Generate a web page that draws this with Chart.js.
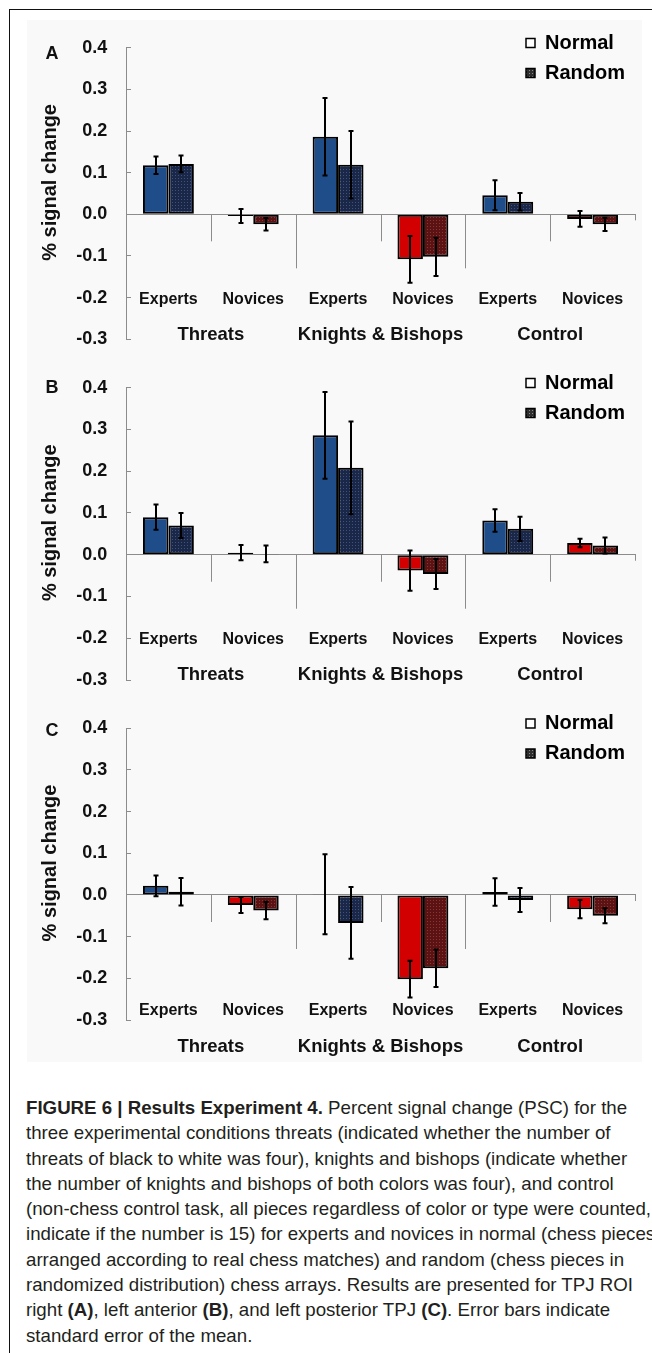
<!DOCTYPE html>
<html>
<head>
<meta charset="utf-8">
<title>Figure 6 - Results Experiment 4</title>
<script src="https://cdn.jsdelivr.net/npm/chart.js@4.4.1/dist/chart.umd.min.js"></script>
<style>
    body { margin: 0; background: #fff; }
    #page { position: relative; width: 652px; height: 1353px; overflow: hidden; font-family: 'Liberation Sans', Arial, sans-serif; }
    #frame { position: absolute; left: 9px; top: 9px; width: 660px; height: 1360px; border-left: 1px solid #111; border-top: 1px solid #111; }
    #panelBg { position: absolute; left: 27px; top: 20px; width: 615px; height: 1042px; background: #f9f9f9; }
    .panel { position: absolute; left: 0; }
    #caption { position: absolute; left: 26px; top: 1095px; font-size: 18.5px; line-height: 25.3px; color: #231f20; transform-origin: 0 0; }
    #caption div { white-space: nowrap; }
</style>
</head>
<body>
<div id="page">
    <div id="panelBg"></div>
    <div id="frame"></div>
    <canvas id="chartA" class="panel" width="652" height="360" style="top:0px"></canvas>
    <canvas id="chartB" class="panel" width="652" height="360" style="top:340px"></canvas>
    <canvas id="chartC" class="panel" width="652" height="390" style="top:680px"></canvas>
    <div id="caption">
        <div><b>FIGURE 6 | Results Experiment 4.</b> Percent signal change (PSC) for the</div>
        <div>three experimental conditions threats (indicated whether the number of</div>
        <div>threats of black to white was four), knights and bishops (indicate whether</div>
        <div>the number of knights and bishops of both colors was four), and control</div>
        <div><span id="capRef">(non-chess control task, all pieces regardless of color or type were counted,</span></div>
        <div>indicate if the number is 15) for experts and novices in normal (chess pieces</div>
        <div>arranged according to real chess matches) and random (chess pieces in</div>
        <div>randomized distribution) chess arrays. Results are presented for TPJ ROI</div>
        <div>right <b>(A)</b>, left anterior <b>(B)</b>, and left posterior TPJ <b>(C)</b>. Error bars indicate</div>
        <div>standard error of the mean.</div>
    </div>
</div>

<script>
// Categories and ticks
const categories = ['Experts', 'Novices', 'Experts', 'Novices', 'Experts', 'Novices'];
const groups = ['Threats', 'Knights & Bishops', 'Control'];
const seriesNames = ['Normal', 'Random'];
const yTickValues = [-0.3, -0.2, -0.1, 0, 0.1, 0.2, 0.3, 0.4];

// Panel A - TPJ ROI right
const aNormal = [0.118, -0.004, 0.186, -0.108, 0.046, -0.011];
const aNormalErr = [0.021, 0.017, 0.093, 0.056, 0.036, 0.019];
const aRandom = [0.121, -0.024, 0.119, -0.102, 0.030, -0.024];
const aRandomErr = [0.020, 0.015, 0.081, 0.046, 0.021, 0.016];

// Panel B - left anterior TPJ
const bNormal = [0.090, 0.005, 0.286, -0.038, 0.082, 0.028];
const bNormalErr = [0.030, 0.018, 0.104, 0.048, 0.027, 0.010];
const bRandom = [0.070, 0.002, 0.208, -0.046, 0.062, 0.022];
const bRandomErr = [0.030, 0.020, 0.111, 0.036, 0.029, 0.019];

// Panel C - left posterior TPJ
const cNormal = [0.022, -0.024, 0.002, -0.202, 0.007, -0.034];
const cNormalErr = [0.025, 0.019, 0.096, 0.044, 0.033, 0.022];
const cRandom = [0.008, -0.037, -0.067, -0.176, -0.012, -0.050];
const cRandomErr = [0.033, 0.021, 0.086, 0.045, 0.029, 0.018];

const FONT = "'Liberation Sans', Arial, sans-serif";
const axisGray = '#8c8c8c';
const textColor = '#111';

Chart.defaults.font.family = FONT;
Chart.defaults.color = textColor;

// small dotted fill, like the Excel pattern used for "Random"
function dotPattern(base, dot) {
    const c = document.createElement('canvas');
    c.width = 3;
    c.height = 3;
    const g = c.getContext('2d');
    g.fillStyle = base;
    g.fillRect(0, 0, 3, 3);
    g.fillStyle = dot;
    g.fillRect(1, 1, 1, 1);
    return g.createPattern(c, 'repeat');
}

const expertFill = '#1f4d8a';
const noviceFill = '#d20000';
const expertPattern = dotPattern('#1a2747', '#3d5282');
const novicePattern = dotPattern('#5a1212', '#8e3434');
const legendPattern = dotPattern('#2e2e2e', '#8a8a8a');

// Error bars drawn from the dataset values through the y scale
const errorBars = {
    id: 'errorBars',
    afterDatasetsDraw(chart) {
        const { ctx, scales: { y } } = chart;
        ctx.save();
        ctx.strokeStyle = '#000';
        ctx.lineWidth = 2;
        chart.data.datasets.forEach((ds, di) => {
            const meta = chart.getDatasetMeta(di);
            meta.data.forEach((bar, i) => {
                const v = ds.data[i];
                const e = ds.errors[i];
                const top = y.getPixelForValue(v + e);
                const bottom = y.getPixelForValue(v - e);
                const x = Math.round(bar.x);
                ctx.beginPath();
                ctx.moveTo(x, top);
                ctx.lineTo(x, bottom);
                ctx.moveTo(x - 2.5, top);
                ctx.lineTo(x + 2.5, top);
                ctx.moveTo(x - 2.5, bottom);
                ctx.lineTo(x + 2.5, bottom);
                ctx.stroke();
            });
        });
        ctx.restore();
    }
};

// Category separators, group labels and panel letter
const axisDecor = {
    id: 'axisDecor',
    afterDraw(chart, args, opts) {
        const { ctx, scales: { x, y } } = chart;
        const zero = y.getPixelForValue(0);
        const half = (x.getPixelForValue(1) - x.getPixelForValue(0)) / 2;
        ctx.save();
        ctx.strokeStyle = axisGray;
        ctx.lineWidth = 1;
        for (let i = 0; i < categories.length; i++) {
            const bx = Math.round(x.getPixelForValue(i) + half) + 0.5;
            const len = i === categories.length - 1 ? 6 : (i % 2 === 0 ? 27 : 54);
            ctx.beginPath();
            ctx.moveTo(bx, zero);
            ctx.lineTo(bx, zero + len);
            ctx.stroke();
        }
        ctx.fillStyle = textColor;
        ctx.textAlign = 'center';
        ctx.textBaseline = 'middle';
        ctx.font = 'bold 18.5px ' + FONT;
        groups.forEach((g, k) => {
            const gx = (x.getPixelForValue(2 * k) + x.getPixelForValue(2 * k + 1)) / 2;
            ctx.fillText(g, gx, zero + opts.groupOffset);
        });
        ctx.font = 'bold 18px ' + FONT;
        ctx.fillText(opts.letter, 52, opts.letterY);
        ctx.restore();
    }
};

// Legend sits in the top right corner of the plot
const legendPlace = {
    id: 'legendPlace',
    afterLayout(chart, args, opts) {
        const lg = chart.legend;
        if (!lg) return;
        lg.left = opts.x;
        lg.top = opts.y;
        lg.right = chart.width;
        lg.width = lg.right - lg.left;
        lg.height = lg.bottom - lg.top;
    }
};

function makePanel(canvasId, letter, normal, normalErr, random, randomErr, cfg) {
    const ctx = document.getElementById(canvasId).getContext('2d');
    return new Chart(ctx, {
        type: 'bar',
        data: {
            labels: categories,
            datasets: [
                {
                    label: seriesNames[0],
                    data: normal,
                    errors: normalErr,
                    backgroundColor: categories.map((c, i) => i % 2 === 0 ? expertFill : noviceFill),
                    borderColor: '#000',
                    borderWidth: 2,
                    borderSkipped: false
                },
                {
                    label: seriesNames[1],
                    data: random,
                    errors: randomErr,
                    backgroundColor: categories.map((c, i) => i % 2 === 0 ? expertPattern : novicePattern),
                    borderColor: '#000',
                    borderWidth: 2,
                    borderSkipped: false
                }
            ]
        },
        options: {
            responsive: false,
            animation: false,
            categoryPercentage: 0.6,
            barPercentage: 1.0,
            layout: { padding: { left: 0, right: 17, top: cfg.top, bottom: cfg.bottom } },
            scales: {
                x: {
                    type: 'category',
                    position: { y: 0 },
                    offset: true,
                    afterFit: s => { s.paddingLeft = 0; s.paddingRight = 0; },
                    grid: { display: true, drawOnChartArea: false, drawTicks: false },
                    border: { color: axisGray, width: 1 },
                    ticks: {
                        color: textColor,
                        font: { size: 16, weight: 'bold' },
                        padding: cfg.tickPad,
                        maxRotation: 0,
                        autoSkip: false
                    }
                },
                y: {
                    min: -0.3,
                    max: 0.4,
                    afterBuildTicks: s => { s.ticks = yTickValues.map(v => ({ value: v })); },
                    afterFit: s => { s.width = 126; s.paddingTop = 0; s.paddingBottom = 0; },
                    grid: { drawOnChartArea: false, drawTicks: true, tickLength: -5, tickColor: axisGray },
                    border: { color: axisGray, width: 1 },
                    ticks: {
                        color: textColor,
                        font: { size: 18, weight: 'bold' },
                        padding: 23.7,
                        callback: v => Number(v).toFixed(1)
                    },
                    title: {
                        display: true,
                        // leading spaces lift the rotated title a little above the plot centre
                        text: '    % signal change',
                        color: textColor,
                        font: { size: 20, weight: 'bold' },
                        padding: { top: 38, bottom: 0 }
                    }
                }
            },
            plugins: {
                tooltip: { enabled: false },
                legend: {
                    position: 'chartArea',
                    align: 'start',
                    labels: {
                        color: textColor,
                        font: { size: 20, weight: 'bold' },
                        boxWidth: 9,
                        boxHeight: 9,
                        padding: 10,
                        generateLabels: () => [
                            { text: seriesNames[0], fillStyle: '#fff', strokeStyle: '#000', lineWidth: 1.5, datasetIndex: 0 },
                            { text: seriesNames[1], fillStyle: legendPattern, strokeStyle: '#000', lineWidth: 1.5, datasetIndex: 1 }
                        ]
                    }
                },
                legendPlace: { x: 516, y: cfg.legendY },
                axisDecor: { letter: letter, letterY: cfg.letterY, groupOffset: cfg.groupOffset }
            }
        },
        plugins: [errorBars, axisDecor, legendPlace]
    });
}

makePanel('chartA', 'A', aNormal, aNormalErr, aRandom, aRandomErr,
    { top: 47.7, bottom: 20.7, tickPad: 76, groupOffset: 121, letterY: 54, legendY: 23 });
makePanel('chartB', 'B', bNormal, bNormalErr, bRandom, bRandomErr,
    { top: 47.7, bottom: 20, tickPad: 75.5, groupOffset: 119.7, letterY: 48.3, legendY: 23 });
makePanel('chartC', 'C', cNormal, cNormalErr, cRandom, cRandomErr,
    { top: 48.3, bottom: 50, tickPad: 106, groupOffset: 151.7, letterY: 50.8, legendY: 23.5 });

// squeeze caption to the width of the printed column
const capRef = document.getElementById('capRef');
const capScale = 625 / capRef.getBoundingClientRect().width;
document.getElementById('caption').style.transform = 'scaleX(' + capScale + ')';
</script>
</body>
</html>
